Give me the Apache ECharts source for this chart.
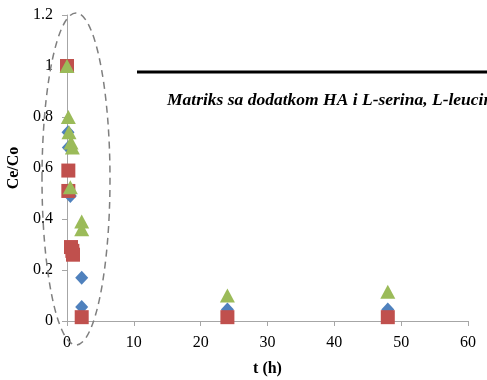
<!DOCTYPE html>
<html><head><meta charset="utf-8">
<script src="https://cdn.jsdelivr.net/npm/echarts@6/dist/echarts.min.js"></script>
<style>html,body{margin:0;padding:0;background:#fff}#c{width:487px;height:380px}</style>
</head><body><div id="c"></div>
<script>
const xTicks = [0, 10, 20, 30, 40, 50, 60];
const yTicks = [0, 0.2, 0.4, 0.6, 0.8, 1, 1.2];
const blueData = [[0, 1], [0.15, 0.74], [0.2, 0.68], [0.5, 0.49], [2.2, 0.17], [2.2, 0.055], [24, 0.045], [48, 0.045]];
const redData = [[0, 1], [0.2, 0.59], [0.2, 0.51], [0.6, 0.29], [0.8, 0.275], [0.9, 0.26], [2.2, 0.015], [24, 0.015], [48, 0.015]];
const greenData = [[0, 1], [0.2, 0.8], [0.3, 0.74], [0.6, 0.7], [0.8, 0.68], [0.5, 0.525], [2.2, 0.39], [2.2, 0.36], [24, 0.1], [48, 0.115]];
const legendText = 'Matriks sa dodatkom HA i L-serina, L-leucin';

const chart = echarts.init(document.getElementById('c'));
const font = 'Liberation Serif';
chart.setOption({
  animation: false,
  grid: {left: 67, right: 19, top: 15, bottom: 59, containLabel: false, outerBoundsMode: 'none'},
  xAxis: {
    type: 'value', min: 0, max: 60, interval: 10,
    name: 't (h)', nameLocation: 'middle', nameGap: 40,
    nameTextStyle: {fontFamily: font, fontWeight: 'bold', fontSize: 16, color: '#000'},
    axisLine: {lineStyle: {color: '#A6A6A6'}},
    axisTick: {show: true, inside: false, length: 5, lineStyle: {color: '#A6A6A6'}},
    axisLabel: {fontFamily: font, fontSize: 16, color: '#000', margin: 14,
      formatter: v => xTicks.includes(v) ? String(v) : ''},
    splitLine: {show: false}
  },
  yAxis: {
    type: 'value', min: 0, max: 1.2, interval: 0.2,
    name: 'Ce/Co', nameLocation: 'middle', nameGap: 42, nameRotate: 90,
    nameTextStyle: {fontFamily: font, fontWeight: 'bold', fontSize: 16, color: '#000'},
    axisLine: {show: true, lineStyle: {color: '#A6A6A6'}},
    axisTick: {show: true, inside: false, length: 5, lineStyle: {color: '#A6A6A6'}},
    axisLabel: {fontFamily: font, fontSize: 16, color: '#000', margin: 14,
      formatter: v => { const t = yTicks.find(y => Math.abs(y - v) < 1e-9); return t === undefined ? '' : String(t); }},
    splitLine: {show: false}
  },
  series: [
    {type: 'scatter', data: blueData, symbol: 'diamond', symbolSize: [13, 14], itemStyle: {color: '#4F81BD', opacity: 1}},
    {type: 'scatter', data: redData, symbol: 'rect', symbolSize: 14, itemStyle: {color: '#C0504D', opacity: 1}},
    {type: 'scatter', data: greenData, symbol: 'triangle', symbolSize: [15, 14], itemStyle: {color: '#9BBB59', opacity: 1}}
  ],
  graphic: [
    {type: 'ellipse', shape: {cx: 76, cy: 179, rx: 34, ry: 166}, z: 10,
      style: {fill: 'none', stroke: '#7F7F7F', lineWidth: 1.5, lineDash: [7, 5]}},
    {type: 'line', shape: {x1: 137, y1: 72, x2: 487, y2: 72}, style: {stroke: '#000', lineWidth: 3}},
    {type: 'text', left: 167, top: 91, style: {text: legendText, fontFamily: font, fontStyle: 'italic', fontWeight: 'bold', fontSize: 17.5, fill: '#000'}}
  ]
});
</script></body></html>
